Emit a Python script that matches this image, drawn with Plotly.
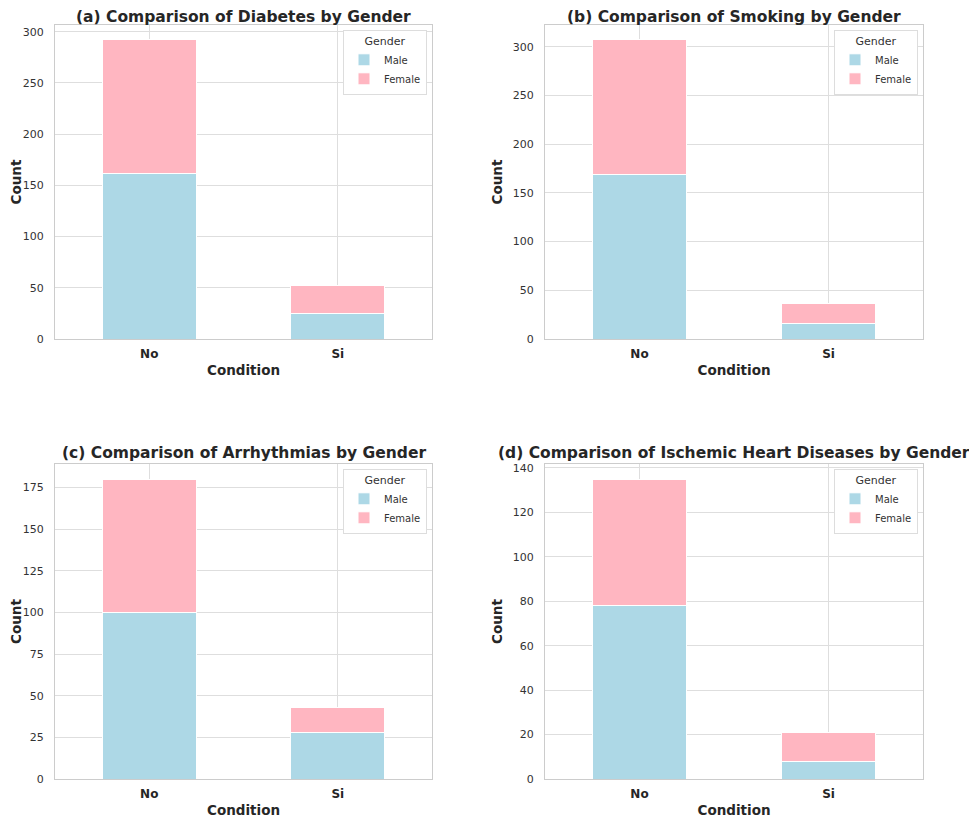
import plotly.graph_objects as go

categories = ["No", "Si"]
titles = [
    "(a) Comparison of Diabetes by Gender",
    "(b) Comparison of Smoking by Gender",
    "(c) Comparison of Arrhythmias by Gender",
    "(d) Comparison of Ischemic Heart Diseases by Gender",
]
male_diabetes = [162, 25]
female_diabetes = [130, 27]
male_smoking = [169, 16]
female_smoking = [138, 20]
male_arrhythmias = [100, 28]
female_arrhythmias = [80, 15]
male_ischemic = [78, 8]
female_ischemic = [57, 13]
y_tick_steps = [50, 50, 25, 20]

panels = [
    (male_diabetes, female_diabetes),
    (male_smoking, female_smoking),
    (male_arrhythmias, female_arrhythmias),
    (male_ischemic, female_ischemic),
]

W, H = 977, 823
OFF = 8  # page body margin
# axes boxes in screen pixels: (left, right, top, bottom)
boxes = [(55, 432, 25, 339), (545, 923, 25, 339), (55, 432, 464, 779), (545, 923, 464, 779)]
title_shift = [-3, -3, 0, 0]

MALE = "#ADD8E6"
FEMALE = "#FFB6C1"
GRID = "#dedede"
EDGE = "#cccccc"
TXT = "#262626"
FONT = "DejaVu Sans"

fig = go.Figure()
layout = dict(
    width=W, height=H, margin=dict(l=0, r=0, t=0, b=0),
    paper_bgcolor="white", plot_bgcolor="white",
    barmode="stack", font=dict(family=FONT, color=TXT),
    annotations=[],
)

for i, ((m, f), (l, r, t, b), title, step, ts) in enumerate(zip(panels, boxes, titles, y_tick_steps, title_shift)):
    l, r, t, b = l - OFF, r - OFF, t - OFF, b - OFF
    k = "" if i == 0 else str(i + 1)
    leg = "legend" + k
    fig.add_trace(go.Bar(x=categories, y=m, name="Male", marker=dict(color=MALE, line=dict(color="white", width=1)),
                         width=0.5, xaxis="x" + k, yaxis="y" + k, legend=leg))
    fig.add_trace(go.Bar(x=categories, y=f, name="Female", marker=dict(color=FEMALE, line=dict(color="white", width=1)),
                         width=0.5, xaxis="x" + k, yaxis="y" + k, legend=leg))
    totals = [a + c for a, c in zip(m, f)]
    ymax = max(totals) * 1.05
    xd = [l / W, r / W]
    yd = [1 - b / H, 1 - t / H]
    layout["xaxis" + k] = dict(
        domain=xd, anchor="y" + k, range=[-0.5, 1.5], type="category",
        showgrid=True, gridcolor=GRID, gridwidth=1,
        showline=True, linecolor=EDGE, linewidth=1, mirror=True,
        ticks="", ticklabelstandoff=4,
        tickfont=dict(family=FONT, size=12, color=TXT, weight="bold"),
        title=dict(text="<b>Condition</b>", font=dict(family=FONT, size=13.5, color=TXT), standoff=5),
        automargin=False, zeroline=False,
    )
    layout["yaxis" + k] = dict(
        domain=yd, anchor="x" + k, range=[0, ymax], dtick=step, tick0=0,
        showgrid=True, gridcolor=GRID, gridwidth=1,
        showline=True, linecolor=EDGE, linewidth=1, mirror=True,
        ticks="", ticklabelstandoff=8,
        tickfont=dict(family=FONT, size=11, color="#333333"),
        title=dict(text="<b>Count</b>", font=dict(family=FONT, size=13.5, color=TXT), standoff=7),
        automargin=False, zeroline=False,
    )
    layout[leg] = dict(
        x=(r - 5) / W, y=1 - (t + 5) / H, xanchor="right", yanchor="top",
        bgcolor="white", bordercolor="#dddddd", borderwidth=1,
        title=dict(text="Gender", side="top center", font=dict(family=FONT, size=11, color="#333333")),
        font=dict(family=FONT, size=10, color="#333333"),
        traceorder="normal", itemwidth=30, tracegroupgap=0,
    )
    layout["annotations"].append(dict(
        text="<b>" + title + "</b>", x=(l + r) / 2 / W, y=1 - t / H, xref="paper", yref="paper",
        xanchor="center", yanchor="bottom", showarrow=False, yshift=ts,
        font=dict(family=FONT, size=15.5, color=TXT),
    ))

fig.update_layout(**layout)
fig.write_html("out.html")
